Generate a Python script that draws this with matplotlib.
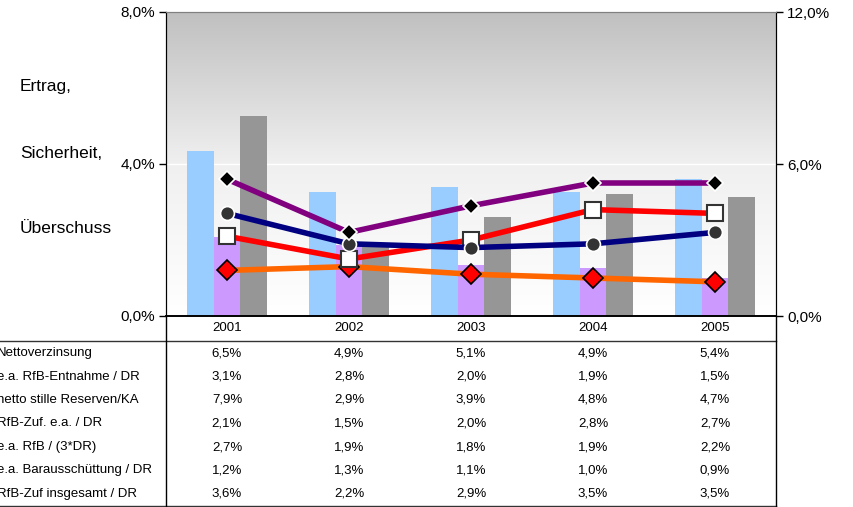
import numpy as np
import matplotlib
matplotlib.use("Agg")
import matplotlib.pyplot as plt
import matplotlib.transforms as mtransforms
from matplotlib.lines import Line2D

plt.rcParams['font.family'] = ['Liberation Sans', 'DejaVu Sans']

years = ['2001', '2002', '2003', '2004', '2005']
row_labels = ['Nettoverzinsung', 'e.a. RfB-Entnahme / DR', 'netto stille Reserven/KA',
              'RfB-Zuf. e.a. / DR', 'e.a. RfB / (3*DR)', 'e.a. Barausschüttung / DR',
              'RfB-Zuf insgesamt / DR']

# Balken (rechte Achse)
nettoverzinsung = [6.5, 4.9, 5.1, 4.9, 5.4]
rfb_entnahme = [3.1, 2.8, 2.0, 1.9, 1.5]
stille_reserven = [7.9, 2.9, 3.9, 4.8, 4.7]
# Linien (linke Achse)
rfb_zuf_ea = [2.1, 1.5, 2.0, 2.8, 2.7]
rfb_3dr = [2.7, 1.9, 1.8, 1.9, 2.2]
barausschuettung = [1.2, 1.3, 1.1, 1.0, 0.9]
rfb_zuf_ges = [3.6, 2.2, 2.9, 3.5, 3.5]

table_rows = [nettoverzinsung, rfb_entnahme, stille_reserven, rfb_zuf_ea,
              rfb_3dr, barausschuettung, rfb_zuf_ges]

W, H = 854, 507
fig = plt.figure(figsize=(W / 100, H / 100), dpi=100)
fig.patch.set_facecolor('white')

left, right, top, bottom = 166, 776, 12, 316
ax = fig.add_axes([left / W, 1 - bottom / H, (right - left) / W, (bottom - top) / H])
x = np.arange(len(years))

# Hintergrund-Verlauf
grad = np.linspace(0, 1, 256).reshape(-1, 1)
ax.imshow(grad, aspect='auto', cmap=matplotlib.colors.LinearSegmentedColormap.from_list(
    'g', ['#ffffff', '#f0f0f0', '#c0c0c0']), origin='lower',
    extent=[-0.5, 4.5, 0, 12], zorder=0)
ax.axhline(6, color='white', lw=1, zorder=0.5)

bw = 0.22
ax.bar(x - bw, nettoverzinsung, bw, color='#99ccff', zorder=1)
ax.bar(x, rfb_entnahme, bw, color='#cc99ff', zorder=1)
ax.bar(x + bw, stille_reserven, bw, color='#969696', zorder=1)
ax.set_xlim(-0.5, 4.5)
ax.set_ylim(0, 12)
ax.set_xticks([])

ax2 = ax.twinx()
ax2.set_ylim(0, 8)
ax2.plot(x, barausschuettung, color='#ff6600', lw=4, marker='D', ms=10,
         mfc='#ff0000', mec='black', mew=1.2)
ax2.plot(x, rfb_zuf_ea, color='#ff0000', lw=4, marker='s', ms=12,
         mfc='white', mec='#333333', mew=1.5)
ax2.plot(x, rfb_3dr, color='#000080', lw=4, marker='o', ms=10,
         mfc='#333333', mec='white', mew=1.2)
ax2.plot(x, rfb_zuf_ges, color='#800080', lw=4, marker='D', ms=8,
         mfc='black', mec='white', mew=1.2)

# Achsen tauschen: Balkenachse rechts, Linienachse links
ax.yaxis.tick_right()
ax.yaxis.set_label_position('right')
ax.set_yticks([0, 6, 12])
ax.set_yticklabels(['0,0%', '6,0%', '12,0%'], fontsize=11)
ax2.yaxis.tick_left()
ax2.set_yticks([0, 4, 8])
ax2.set_yticklabels(['0,0%', '4,0%', '8,0%'], fontsize=11)

for a in (ax, ax2):
    a.tick_params(axis='y', length=5, width=1, pad=3)
    a.spines['top'].set_color('#808080')
    a.spines['left'].set_color('black')
    a.spines['right'].set_color('black')
    a.spines['bottom'].set_color('black')
    a.spines['bottom'].set_linewidth(1.2)

# Seitentext
fig.text(20 / W, 1 - 86 / H, 'Ertrag,', fontsize=12.5, va='center')
fig.text(20 / W, 1 - 154 / H, 'Sicherheit,', fontsize=12.5, va='center')
fig.text(20 / W, 1 - 228 / H, 'Überschuss', fontsize=12.5, va='center')

# Datentabelle
trans = mtransforms.blended_transform_factory(ax.transData, fig.transFigure)
for i, yr in enumerate(years):
    fig.text(i, 1 - 328 / H, yr, transform=trans, ha='center', va='center', fontsize=9.5)
row_h = 23.5
for r, (lab, vals) in enumerate(zip(row_labels, table_rows)):
    yy = 1 - (353 + r * row_h) / H
    fig.text(-3 / W, yy, lab, ha='left', va='center', fontsize=9.5)
    for i, v in enumerate(vals):
        fig.text(i, yy, ('%.1f%%' % v).replace('.', ','), transform=trans,
                 ha='center', va='center', fontsize=9.5)

def fline(x0, y0, x1, y1, c='black', lw=1):
    fig.add_artist(Line2D([x0 / W, x1 / W], [1 - y0 / H, 1 - y1 / H], color=c, lw=lw))

fline(0, 341, right, 341, '#333333')
fline(0, 506, right, 506, '#333333')
fline(left, bottom, left, 507)
fline(right, bottom, right, 507)

fig.savefig('out.png', dpi=100)
